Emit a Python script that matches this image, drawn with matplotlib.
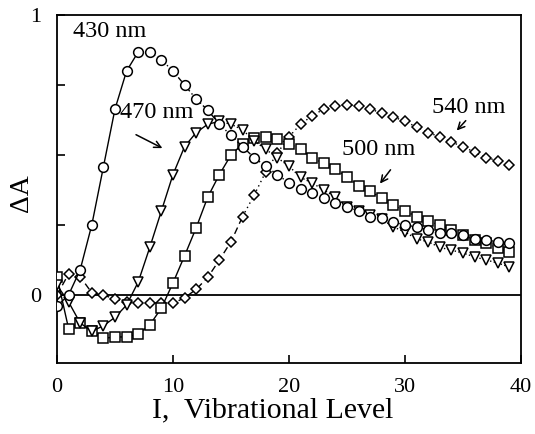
import numpy as np
import matplotlib
matplotlib.use("Agg")
import matplotlib.pyplot as plt

levels = list(range(40))

dA_430 = [-0.04, 0.0, 0.09, 0.25, 0.457, 0.664, 0.80, 0.868, 0.868, 0.84,
          0.80, 0.75, 0.70, 0.66, 0.61, 0.57, 0.53, 0.49, 0.46, 0.43,
          0.40, 0.38, 0.364, 0.346, 0.33, 0.315, 0.30, 0.28, 0.275, 0.26,
          0.25, 0.243, 0.232, 0.22, 0.22, 0.214, 0.20, 0.196, 0.19, 0.186]
dA_470 = [0.035, -0.025, -0.10, -0.13, -0.11, -0.08, -0.036, 0.046, 0.17, 0.30,
          0.43, 0.53, 0.58, 0.61, 0.62, 0.61, 0.59, 0.55, 0.52, 0.49,
          0.46, 0.42, 0.40, 0.375, 0.35, 0.315, 0.30, 0.285, 0.27, 0.243,
          0.225, 0.20, 0.19, 0.17, 0.16, 0.15, 0.136, 0.125, 0.114, 0.10]
dA_500 = [0.065, -0.12, -0.10, -0.13, -0.155, -0.15, -0.15, -0.14, -0.107, -0.047,
          0.043, 0.14, 0.24, 0.35, 0.43, 0.50, 0.54, 0.56, 0.565, 0.557,
          0.54, 0.52, 0.49, 0.47, 0.45, 0.42, 0.39, 0.37, 0.346, 0.32,
          0.30, 0.28, 0.264, 0.25, 0.232, 0.214, 0.196, 0.186, 0.168, 0.154]
dA_540 = [0.0, 0.075, 0.065, 0.008, 0.0, -0.015, -0.025, -0.03, -0.03, -0.03,
          -0.03, -0.01, 0.02, 0.063, 0.125, 0.19, 0.28, 0.357, 0.44, 0.507,
          0.565, 0.61, 0.64, 0.664, 0.675, 0.68, 0.675, 0.664, 0.65, 0.636,
          0.62, 0.60, 0.58, 0.565, 0.546, 0.53, 0.51, 0.49, 0.48, 0.464]

serif = ["Liberation Serif", "DejaVu Serif"]
plt.rcParams["font.family"] = serif

fig = plt.figure(figsize=(5.35, 4.34), dpi=100)
ax = fig.add_axes([0.1065, 0.1636, 0.8673, 0.8018])

# zero line
ax.axhline(0, color="black", lw=1.3, zorder=1)

def plot_series(y, marker, ms, split, ls_a, ls_b, z):
    x = np.array(levels)
    y = np.array(y)
    ax.plot(x[:split + 1], y[:split + 1], linestyle=ls_a, marker="none", color="black", lw=1.0, zorder=z)
    ax.plot(x[split:], y[split:], linestyle=ls_b, marker="none", color="black", lw=1.0, zorder=z)
    ax.plot(x, y, linestyle="none", marker=marker, markersize=ms,
            markerfacecolor="white", markeredgecolor="black", markeredgewidth=1.1, zorder=z + 0.5)

plot_series(dA_540, "D", 4.8, 16, (0, (5, 3)), (0, (1, 2.5)), 2)
plot_series(dA_500, "s", 7.2, 17, "-", ":", 3)
plot_series(dA_470, "v", 7.6, 14, "-", ":", 4)
plot_series(dA_430, "o", 7.0, 7, "-", (0, (4, 2, 1, 2)), 5)

ax.set_xlim(0, 40)
ax.set_ylim(-0.243, 1.0)
ax.set_xticks([0, 10, 20, 30, 40])
ax.set_yticks([0, 0.25, 0.5, 0.75, 1.0])
ax.set_yticklabels(["0", "", "", "", "1"])
ax.tick_params(direction="in", length=6, width=1.2, labelsize=16, pad=11,
               top=False, right=False)
ax.tick_params(axis="y", pad=11)
for s in ax.spines.values():
    s.set_linewidth(1.3)

fs = 17.5
ax.text(1.4, 0.94, "430 nm", fontsize=fs, va="center", ha="left")
ax.text(5.4, 0.65, "470 nm", fontsize=fs, va="center", ha="left")
ax.text(24.6, 0.52, "500 nm", fontsize=fs, va="center", ha="left")
ax.text(32.3, 0.67, "540 nm", fontsize=fs, va="center", ha="left")

arr = dict(arrowstyle="->", color="black", lw=1.1, mutation_scale=12)
ax.annotate("", xy=(9.3, 0.52), xytext=(6.6, 0.577), arrowprops=arr)
ax.annotate("", xy=(27.7, 0.39), xytext=(28.9, 0.455), arrowprops=arr)
ax.annotate("", xy=(34.3, 0.58), xytext=(35.4, 0.63), arrowprops=arr)

fig.text(0.040, 0.555, "ΔA", fontsize=20, rotation=90, va="center", ha="center")
fig.text(0.51, 0.055, "I,  Vibrational Level", fontsize=21.5, va="center", ha="center")

fig.savefig("out.png", dpi=100)
